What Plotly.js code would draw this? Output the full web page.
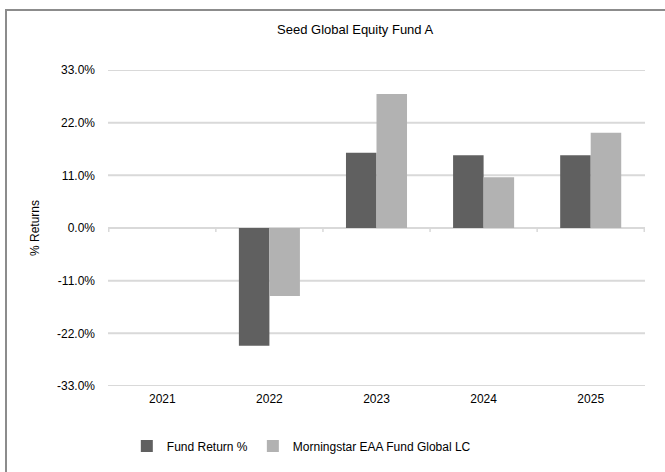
<!DOCTYPE html>
<html>
<head>
<meta charset="utf-8">
<script src="https://cdn.plot.ly/plotly-3.0.1.min.js"></script>
<style>
  html, body { margin: 0; padding: 0; overflow: hidden; background: #fff; }
  #chart { width: 665px; height: 472px; position: absolute; left: 0; top: 0; }
  #frame { position: absolute; left: 5px; top: 9px; width: 720px; height: 520px;
           border: 2px solid #8c8c8c; pointer-events: none; box-sizing: border-box; }
</style>
</head>
<body>
<div id="chart"></div>
<div id="frame"></div>
<script>
const years = ["2021", "2022", "2023", "2024", "2025"];
const fundReturn = [null, -24.6, 15.7, 15.2, 15.2];
const benchmarkReturn = [null, -14.2, 28.0, 10.6, 19.9];
const tickValues = [-33, -22, -11, 0, 11, 22, 33];
const tickLabels = ["-33.0%", "-22.0%", "-11.0%", "0.0%", "11.0%", "22.0%", "33.0%"];

const font = "Liberation Sans, Arial, sans-serif";
const grid = "#d9d9d9";

const traces = [
  { type: "bar", name: "Fund Return %", x: years, y: fundReturn,
    marker: { color: "#606060", line: { width: 0 } }, hoverinfo: "skip" },
  { type: "bar", name: "Morningstar EAA Fund Global LC", x: years, y: benchmarkReturn,
    marker: { color: "#b2b2b2", line: { width: 0 } }, hoverinfo: "skip" }
];

const shapes = [];
// horizontal gridlines at every y tick
tickValues.forEach(function (v) {
  shapes.push({ type: "line", layer: "below", xref: "paper", yref: "y",
                x0: 0, x1: 1, y0: v, y1: v, line: { color: grid, width: 2 } });
});
// small tick marks at category boundaries on the zero line
for (let i = 0; i <= years.length; i++) {
  shapes.push({ type: "line", layer: "below", xref: "x", yref: "y", ysizemode: "pixel", yanchor: 0,
                x0: i - 0.5, x1: i - 0.5, y0: 0, y1: -4,
                line: { color: grid, width: 1.5 } });
}

const layout = {
  width: 665, height: 472,
  paper_bgcolor: "#ffffff", plot_bgcolor: "#ffffff",
  margin: { l: 108, r: 20, t: 70, b: 86 },
  font: { family: font, size: 12, color: "#000" },
  title: { text: "Seed Global Equity Fund A", font: { family: font, size: 13, color: "#000" },
           xref: "container", x: 0.534, xanchor: "center", y: 0.937, yanchor: "middle" },
  barmode: "group", bargap: 0.43, bargroupgap: 0,
  showlegend: true,
  legend: { orientation: "h", x: 0.36, xanchor: "center", y: -0.19, yanchor: "middle",
            font: { family: font, size: 12, color: "#000" }, itemwidth: 30,
            traceorder: "normal" },
  xaxis: { type: "category", showgrid: false, zeroline: false, showline: false,
           ticks: "", tickfont: { family: font, size: 12, color: "#000" },
           ticklabelstandoff: 4 },
  yaxis: { range: [-33, 33], tickmode: "array", tickvals: tickValues, ticktext: tickLabels,
           showgrid: false, zeroline: false, showline: false, ticklabelstandoff: 12,
           tickfont: { family: font, size: 12, color: "#000" },
           title: { text: "% Returns", font: { family: font, size: 12, color: "#000" }, standoff: 14 } },
  shapes: shapes
};

Plotly.newPlot("chart", traces, layout, { staticPlot: true, displayModeBar: false });
</script>
</body>
</html>
